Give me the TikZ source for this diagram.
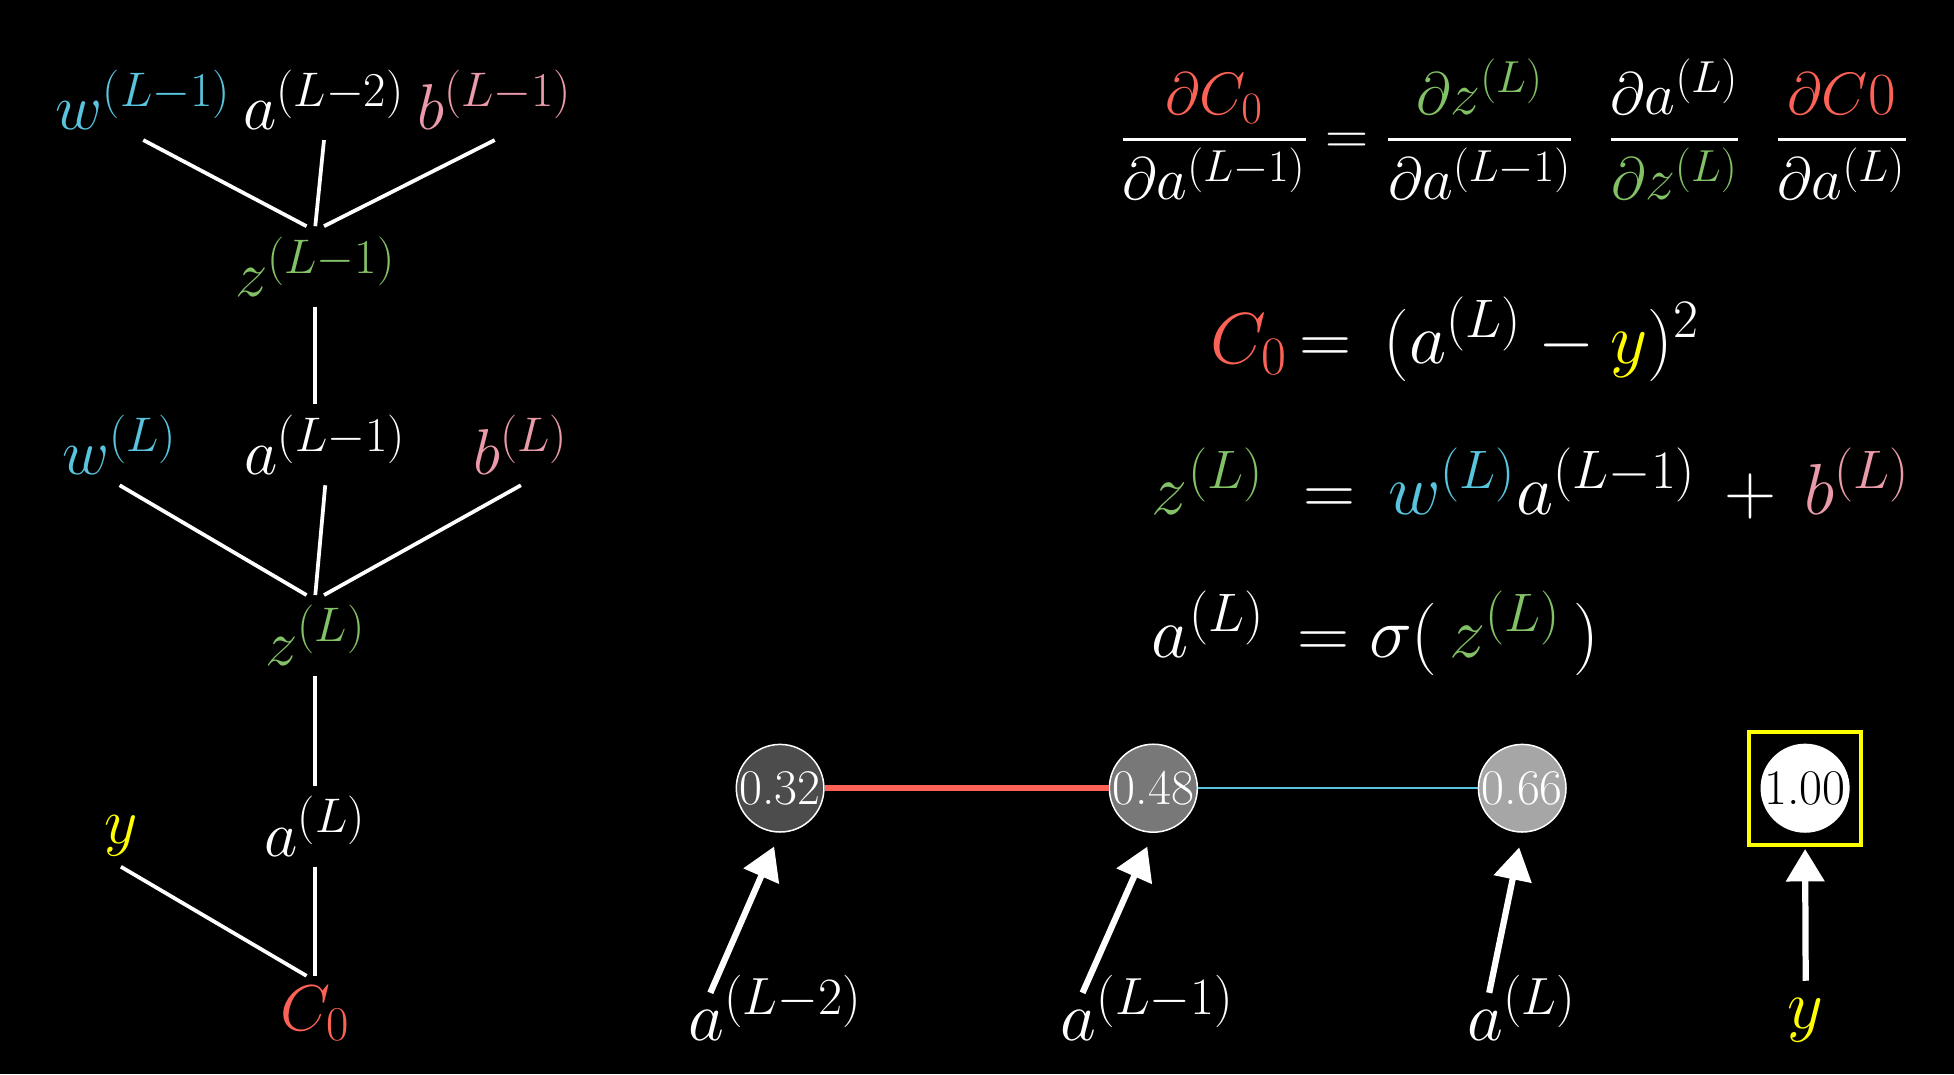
\documentclass[tikz,border=0pt]{standalone}
\usepackage{fix-cm}
\usepackage{amsmath}
\usetikzlibrary{arrows.meta, positioning, calc}

\definecolor{costred}{HTML}{FC6255}
\definecolor{zgreen}{HTML}{83C167}
\definecolor{wblue}{HTML}{58C4DD}
\definecolor{bpink}{HTML}{EA9AA8}
\definecolor{ygold}{HTML}{FFFF00}

% slightly larger superscripts
\DeclareMathSizes{24}{24}{18}{13}
\DeclareMathSizes{26}{26}{19.5}{14}
\DeclareMathSizes{28}{28}{21}{15}
\DeclareMathSizes{29}{29}{21.75}{15.5}

\begin{document}
\begin{tikzpicture}[
  x=0.5pt, y=-0.5pt,
  lbl/.style={text=white, inner sep=4pt, anchor=base, font=\fontsize{26}{31}\selectfont},
  inlbl/.style={text=white, inner sep=0pt, font=\fontsize{28}{34}\selectfont},
  eqn/.style={text=white, inner sep=0pt, anchor=base west, font=\fontsize{29}{35}\selectfont},
  edge/.style={white, line width=1.5pt},
  neuron/.style={circle, draw=white, line width=0.6pt, minimum size=34pt, inner sep=0pt,
                 text=white, font=\fontsize{20}{20}\selectfont},
  arr/.style={-{Triangle[length=13pt, width=15pt]}, white, line width=2.5pt, shorten >=6pt}
]
  \fill[black] (0,0) rectangle (1568,862);

  % dependency tree, layer L-1
  \node[lbl, text=wblue]  (w1) at (115,104) {$w^{(L-1)}$};
  \node[lbl]              (a2) at (260,104) {$a^{(L-2)}$};
  \node[lbl, text=bpink]  (b1) at (397,104) {$b^{(L-1)}$};
  \node[lbl, text=zgreen] (z1) at (253,238) {$z^{(L-1)}$};
  % layer L
  \node[lbl, text=wblue]  (w0) at (96,381)  {$w^{(L)}$};
  \node[lbl]              (a1) at (261,381) {$a^{(L-1)}$};
  \node[lbl, text=bpink]  (b0) at (418,381) {$b^{(L)}$};
  \node[lbl, text=zgreen] (z0) at (253,534) {$z^{(L)}$};
  % cost
  \node[lbl, text=ygold]   (yl) at (97,677)  {$y$};
  \node[lbl]               (aL) at (253,687) {$a^{(L)}$};
  \node[lbl, text=costred] (C0) at (253,827) {$C_0$};

  \draw[edge] (w1.south) -- ([xshift=-3.5pt]z1.north);
  \draw[edge] (a2.south) -- (z1.north);
  \draw[edge] (b1.south) -- ([xshift=3.5pt]z1.north);
  \draw[edge] (z1.south) -- (z1.south |- a1.north);
  \draw[edge] (w0.south) -- ([xshift=-3.5pt]z0.north);
  \draw[edge] (a1.south) -- (z0.north);
  \draw[edge] (b0.south) -- ([xshift=3.5pt]z0.north);
  \draw[edge] (z0.south) -- (aL.north);
  \draw[edge] (yl.south) -- ([xshift=-3.5pt]C0.north);
  \draw[edge] (aL.south) -- (C0.north);

  % equations
  \node[eqn, font=\fontsize{24}{29}\selectfont] (chain) at (898,124)
    {$\displaystyle \frac{\color{costred}\partial C_0}{\partial a^{(L-1)}}
      = \frac{\color{zgreen}\partial z^{(L)}}{\partial a^{(L-1)}}\;\;
        \frac{\partial a^{(L)}}{\color{zgreen}\partial z^{(L)}}\;\;
        \frac{\color{costred}\partial C0}{\partial a^{(L)}}$};
  \node[eqn] (cost) at (971,291.5)
    {${\color{costred}C_0}\,{=}\;\,(a^{(L)} - {\color{ygold}y})^2$};
  \node[eqn] (zdef) at (924,413)
    {${\color{zgreen}z^{(L)}}\;=\,{\color{wblue}w^{(L)}}a^{(L-1)}\,+\,{\color{bpink}b^{(L)}}$};
  \node[eqn] (adef) at (924,528)
    {$a^{(L)}\,=\sigma(\,{\color{zgreen}z^{(L)}}\,)$};

  % activations
  \node[neuron, fill=white!30!black] (c1) at (626,632.5)    {0.32};
  \node[neuron, fill=white!47!black] (c2) at (925.5,632.5)  {0.48};
  \node[neuron, fill=white!65!black] (c3) at (1221.5,632.5) {0.66};
  \node[neuron, fill=white, text=black] (c4) at (1448.5,632.5) {1.00};
  \node[draw=ygold, line width=1.6pt, minimum size=45pt, inner sep=0pt] (ybox) at (1448.5,632.7) {};

  \draw[costred, line width=2.3pt] (c1) -- (c2);
  \draw[wblue, line width=0.7pt] (c2) -- (c3);

  \node[inlbl, anchor=base west] (al2) at (552,834.7)  {$a^{(L-2)}$};
  \node[inlbl, anchor=base west] (al1) at (850.7,834.7) {$a^{(L-1)}$};
  \node[inlbl, anchor=base west] (al0) at (1177,834.7)  {$a^{(L)}$};
  \node[inlbl, anchor=base, text=ygold] (ylab) at (1449,825) {$y$};

  \draw[arr] ([shift={(18,-38)}]al2.base west) -- (c1.south);
  \draw[arr] ([shift={(18,-38)}]al1.base west) -- (c2.south);
  \draw[arr] ([shift={(18,-38)}]al0.base west) -- (c3.south);
  \draw[arr, shorten >=1pt] ([shift={(0,-38)}]ylab.base) -- (ybox.south);
\end{tikzpicture}
\end{document}
